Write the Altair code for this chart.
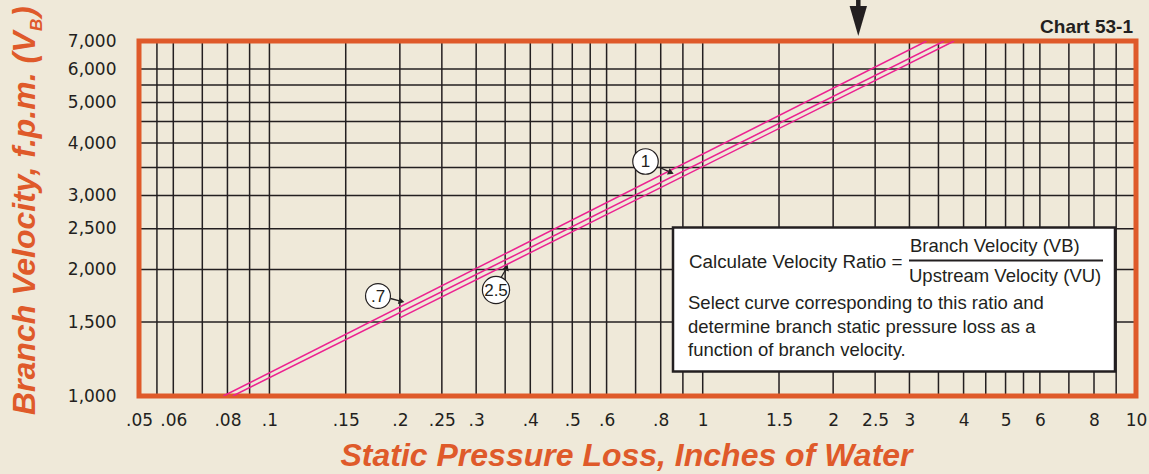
import altair as alt
import pandas as pd

# ---- chart values -------------------------------------------------------
# vertical and horizontal ruling of the log-log grid
grid_loss = [0.055, 0.06, 0.07, 0.08, 0.09, 0.1, 0.15, 0.2, 0.25, 0.3, 0.35,
             0.4, 0.45, 0.5, 0.55, 0.6, 0.7, 0.8, 0.9, 1, 1.5, 2, 2.5, 3,
             3.5, 4, 4.5, 5, 5.5, 6, 7, 8, 9]
grid_velocity = [1500, 2000, 2500, 3000, 3500, 4000, 4500, 5000, 5500, 6000]

# labelled ticks
loss_ticks = [0.05, 0.06, 0.08, 0.1, 0.15, 0.2, 0.25, 0.3, 0.4, 0.5, 0.6,
              0.8, 1, 1.5, 2, 2.5, 3, 4, 5, 6, 8, 10]
velocity_ticks = [1000, 1500, 2000, 2500, 3000, 4000, 5000, 6000, 7000]

# velocity-ratio curves (straight on log-log paper): start and end points
curve_ratio = [".7", "1", "2.5"]
curve_loss_start = [0.0783, 0.0823, 0.2]
curve_vel_start = [1000, 1000, 1535]
curve_loss_end = [3.287, 3.609, 3.805]
curve_vel_end = [7000, 7000, 7000]

# ---- styling ------------------------------------------------------------
BG = "#EFE9D9"
ORANGE = "#DF5A2A"
INK = "#231F20"
MAGENTA = "#EC2290"
W, H = 997, 355          # plot area
OX, OY = 139, 41         # plot origin inside the page

rows = []
for r, x0, y0, x1, y1 in zip(curve_ratio, curve_loss_start, curve_vel_start,
                             curve_loss_end, curve_vel_end):
    rows.append({"ratio": r, "x": x0, "y": y0})
    rows.append({"ratio": r, "x": x1, "y": y1})
curves = pd.DataFrame(rows)

xs = alt.Scale(type="log", domain=[0.05, 10], nice=False)
ys = alt.Scale(type="log", domain=[1000, 7000], nice=False)

ax_x = alt.Axis(values=loss_ticks, grid=False, ticks=False, domain=False,
                title=None, labelFont="DejaVu Sans", labelFontSize=17,
                labelColor=INK, labelPadding=29, labelBaseline="alphabetic",
                labelOverlap=False, labelFlush=False,
                labelExpr="datum.value < 1 ? replace(format(datum.value, ''), '0.', '.') : format(datum.value, '')")
ax_y = alt.Axis(values=velocity_ticks, format=",", grid=False, ticks=False,
                domain=False, title=None, labelFont="DejaVu Sans",
                labelFontSize=17, labelColor=INK, labelPadding=23,
                labelOverlap=False, labelFlush=False)

one = pd.DataFrame({"k": [0]})


def px(x):
    return alt.value(x - OX)


def py(y):
    return alt.value(y - OY)


def label(text, x, y, size=18.5, align="left", weight="normal",
          style="normal", color=INK, font="Liberation Sans", angle=0,
          baseline="alphabetic"):
    return alt.Chart(one).mark_text(
        text=text, align=align, baseline=baseline, fontSize=size,
        fontWeight=weight, fontStyle=style, color=color, font=font,
        angle=angle,
    ).encode(x=px(x), y=py(y))


vgrid = alt.Chart(pd.DataFrame({"x": grid_loss})).mark_rule(
    color=INK, strokeWidth=1.5
).encode(x=alt.X("x:Q", scale=xs, axis=ax_x))

hgrid = alt.Chart(pd.DataFrame({"y": grid_velocity})).mark_rule(
    color=INK, strokeWidth=1.5
).encode(y=alt.Y("y:Q", scale=ys, axis=ax_y))

border = alt.Chart(one).mark_rect(
    filled=False, stroke=ORANGE, strokeWidth=5
).encode(x=alt.value(0), x2=alt.value(W), y=alt.value(0), y2=alt.value(H))

lines = alt.Chart(curves).mark_line(
    color=MAGENTA, strokeWidth=1.5, clip=True
).encode(
    x=alt.X("x:Q", scale=xs, axis=ax_x),
    y=alt.Y("y:Q", scale=ys, axis=ax_y),
    detail="ratio:N",
)

# curve callouts: circled ratio with a small pointer
callout_pos = {".7": (378, 296, 620), "2.5": (496, 290, 740), "1": (645.5, 161.5, 650)}
callouts = []
for name in curve_ratio:
    cx, cy, size = callout_pos[name]
    callouts.append(alt.Chart(one).mark_point(
        shape="circle", filled=True, fill="white", stroke=INK,
        strokeWidth=1.2, size=size, opacity=1
    ).encode(x=px(cx), y=py(cy)))
    callouts.append(label(name, cx, cy + 0.5, size=17, align="center",
                          baseline="middle"))

pointer_segments = [
    (390.5, 298.5, 399.5, 300.8, 401.5, 301.4, 14),
    (500.5, 278.5, 505.5, 270.0, 506.6, 267.5, 290),
    (658.5, 167.0, 668.5, 171.3, 671.0, 172.5, 23),
]
pointers = []
for x0, y0, x1, y1, hx, hy, ang in pointer_segments:
    pointers.append(alt.Chart(one).mark_rule(color=INK, strokeWidth=1.3).encode(
        x=px(x0), y=py(y0), x2=px(x1), y2=py(y1)))
    pointers.append(alt.Chart(one).mark_point(
        shape="triangle-right", filled=True, color=INK, size=45, angle=ang,
        opacity=1).encode(x=px(hx), y=py(hy)))

# instruction panel
panel = alt.Chart(one).mark_rect(
    fill="white", stroke=INK, strokeWidth=2.5
).encode(x=px(673), x2=px(1115), y=py(227.5), y2=py(371.5))
frac_bar = alt.Chart(one).mark_rule(color=INK, strokeWidth=2).encode(
    x=px(909), x2=px(1103), y=py(260.5))
panel_text = [
    label("Calculate Velocity Ratio =", 689, 267.5, size=18.8),
    label("Branch Velocity (VB)", 910, 252),
    label("Upstream Velocity (VU)", 909, 282),
    label("Select curve corresponding to this ratio and", 688, 309),
    label("determine branch static pressure loss as a", 688, 332.5),
    label("function of branch velocity.", 688, 356),
]

# marker arrow above the chart
arrow_shaft = alt.Chart(one).mark_rule(color=INK, strokeWidth=4.5).encode(
    x=px(858.3), y=py(0), y2=py(10))
arrow_head = alt.Chart(one).mark_point(
    shape="M-0.58,-1L0.58,-1L0,1Z", filled=True, color=INK, size=900, opacity=1
).encode(x=px(858.3), y=py(21))

titles = [
    label("Chart 53-1", 1133, 33, size=19, align="right", weight="bold"),
    label("Static Pressure Loss, Inches of Water", 626.5, 466, size=32,
          align="center", weight="bold", style="italic", color=ORANGE),
    label("Branch Velocity, f.p.m. (V", 35, 415, size=32, weight="bold",
          style="italic", color=ORANGE, angle=270),
    label("B", 42, 31, size=17, weight="bold", style="italic",
          color=ORANGE, angle=270),
    label(")", 35, 17, size=32, weight="bold", style="italic",
          color=ORANGE, angle=270),
]

chart = alt.layer(
    vgrid, hgrid, border, lines, *pointers, *callouts, panel, frac_bar,
    *panel_text, arrow_shaft, arrow_head, *titles
).properties(
    width=W, height=H,
    autosize=alt.AutoSizeParams(type="none"),
    padding={"left": OX, "top": OY, "right": 1149 - OX - W, "bottom": 474 - OY - H},
).configure(
    background=BG,
).configure_view(
    stroke=None, fill=BG,
)

chart.save("out.html", embed_options={"renderer": "svg", "actions": False})
